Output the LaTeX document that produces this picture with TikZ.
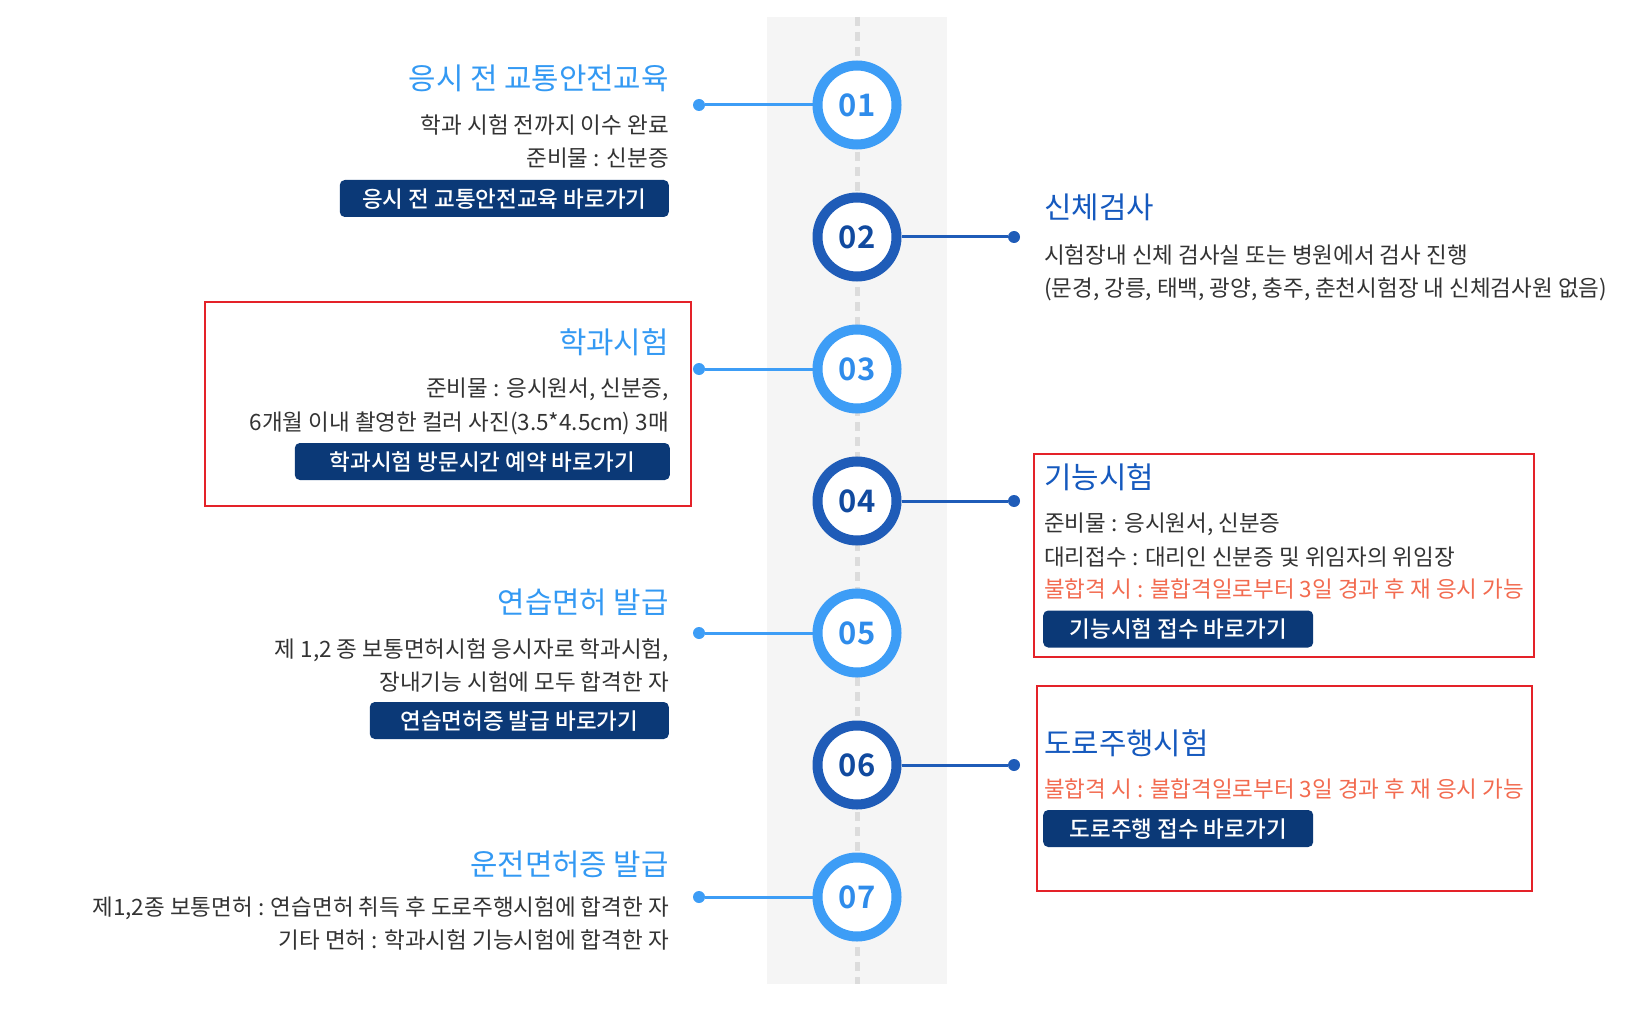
\documentclass[tikz,border=0pt]{standalone}
\usepackage{fontspec}
\setmainfont{Noto Sans CJK KR}
\newfontface\numfont{Noto Sans CJK KR Bold}
\newfontface\btnfont{Noto Sans CJK KR Medium}
\usepackage{tikz}
\usetikzlibrary{positioning}
\definecolor{lb}{HTML}{3D9DF6}
\definecolor{db}{HTML}{1F5CB8}
\definecolor{lbtxt}{HTML}{2F8CEB}
\definecolor{dbtxt}{HTML}{114A9F}
\definecolor{ttllb}{HTML}{3399F3}
\definecolor{ttldb}{HTML}{1559BE}
\definecolor{bodygray}{HTML}{333333}
\definecolor{warn}{HTML}{F26B50}
\definecolor{navy}{HTML}{0B3977}
\definecolor{framered}{HTML}{E42229}
\definecolor{band}{HTML}{F5F5F5}
\definecolor{dashgray}{HTML}{DCDCDC}

\begin{document}
\begin{tikzpicture}[x=1pt,y=-1pt,
  ttl/.style={inner sep=0pt, font=\fontsize{29.8}{32}\selectfont},
  txt/.style={inner sep=0pt, text=bodygray, font=\fontsize{22.5}{26}\selectfont},
  btn/.style={fill=navy, text=white, rounded corners=5pt, minimum height=37pt, inner sep=0pt, text depth=0.1em, font=\btnfont\fontsize{22.5}{26}\selectfont},
  ring/.style={circle, fill=white, line width=10pt, minimum size=79pt, inner sep=0pt, outer sep=5pt, font=\numfont\fontsize{31}{31}\selectfont},
  dot/.style={circle, inner sep=0pt, minimum size=12pt},
  conn/.style={line width=3pt},
  redbox/.style={draw=framered, line width=2pt}
]
\useasboundingbox (0,0) rectangle (1648,1032);
\fill[band] (767,17) rectangle (947,984);
\coordinate (top) at (857,17);
\coordinate (bot) at (857,984);
\draw[dashgray, line width=5pt, dash pattern=on 9pt off 6pt] (top) -- (bot);

\foreach \i/\c/\t in {1/lb/lbtxt,2/db/dbtxt,3/lb/lbtxt,4/db/dbtxt,5/lb/lbtxt,6/db/dbtxt,7/lb/lbtxt}
  \node[ring, draw=\c, text=\t] (c\i) at (857,{105+132*(\i-1)}) {0\i};
\foreach \i in {1,3,5,7} {
  \node[dot, fill=lb] (d\i) at (699,{105+132*(\i-1)}) {};
  \draw[conn, lb] (d\i) -- (c\i);
}
\foreach \i in {2,4,6} {
  \node[dot, fill=db] (d\i) at (1014,{105+132*(\i-1)}) {};
  \draw[conn, db] (c\i) -- (d\i);
}

\node[ttl, text=ttllb, anchor=base east] (t1) at (669,90) {응시 전 교통안전교육};
\node[txt, anchor=base east] (b1a) at (669,134) {학과 시험 전까지 이수 완료};
\node[txt, anchor=base east] (b1b) at (669,167) {준비물 : 신분증};
\node[btn, minimum width=329pt, anchor=east] (k1) at (669,198.5) {응시 전 교통안전교육 바로가기};

\node[ttl, text=ttldb, anchor=base west] (t2) at (1044,219) {신체검사};
\node[txt, anchor=base west] (b2a) at (1044,264) {시험장내 신체 검사실 또는 병원에서 검사 진행};
\node[txt, anchor=base west] (b2b) at (1044,296) {(문경, 강릉, 태백, 광양, 충주, 춘천시험장 내 신체검사원 없음)};

\draw[redbox] (205,302) rectangle (691,506);
\node[ttl, text=ttllb, anchor=base east] (t3) at (669,353) {학과시험};
\node[txt, anchor=base east] (b3a) at (669,396) {준비물 : 응시원서, 신분증,};
\node[txt, anchor=base east] (b3b) at (669,430) {6개월 이내 촬영한 컬러 사진(3.5*4.5cm) 3매};
\node[btn, minimum width=375pt, anchor=east] (k3) at (670,461.5) {학과시험 방문시간 예약 바로가기};

\draw[redbox] (1034,454) rectangle (1534,657);
\node[ttl, text=ttldb, anchor=base west] (t4) at (1044,488) {기능시험};
\node[txt, anchor=base west] (b4a) at (1044,531) {준비물 : 응시원서, 신분증};
\node[txt, anchor=base west] (b4b) at (1044,565) {대리접수 : 대리인 신분증 및 위임자의 위임장};
\node[txt, text=warn, anchor=base west] (b4c) at (1044,597) {불합격 시 : 불합격일로부터 3일 경과 후 재 응시 가능};
\node[btn, minimum width=270pt, anchor=west] (k4) at (1043,629) {기능시험 접수 바로가기};

\node[ttl, text=ttllb, anchor=base east] (t5) at (669,613) {연습면허 발급};
\node[txt, anchor=base east] (b5a) at (669,657) {제 1,2 종 보통면허시험 응시자로 학과시험,};
\node[txt, anchor=base east] (b5b) at (669,690) {장내기능 시험에 모두 합격한 자};
\node[btn, minimum width=299pt, anchor=east] (k5) at (669,720.5) {연습면허증 발급 바로가기};

\draw[redbox] (1037,686) rectangle (1532,891);
\node[ttl, text=ttldb, anchor=base west] (t6) at (1044,754) {도로주행시험};
\node[txt, text=warn, anchor=base west] (b6a) at (1044,797) {불합격 시 : 불합격일로부터 3일 경과 후 재 응시 가능};
\node[btn, minimum width=270pt, anchor=west] (k6) at (1043,828.5) {도로주행 접수 바로가기};

\node[ttl, text=ttllb, anchor=base east] (t7) at (669,875) {운전면허증 발급};
\node[txt, anchor=base east] (b7a) at (669,915) {제1,2종 보통면허 : 연습면허 취득 후 도로주행시험에 합격한 자};
\node[txt, anchor=base east] (b7b) at (669,948) {기타 면허 : 학과시험 기능시험에 합격한 자};
\end{tikzpicture}
\end{document}
